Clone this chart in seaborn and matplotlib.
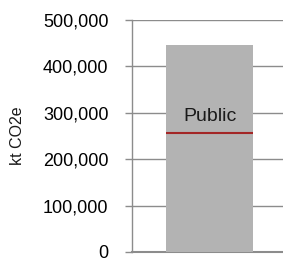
import numpy as np
import pandas as pd
import seaborn as sns
from matplotlib import pyplot as plt
from matplotlib.ticker import FuncFormatter

# Data
categories = ["Total"]
totals = [446000]
public_level = [256000]
segment_labels = ["Public"]
y_ticks = [0, 100000, 200000, 300000, 400000, 500000]

df = pd.DataFrame({"cat": categories, "value": totals})

sns.set_theme(style="white")
plt.rcParams["font.family"] = ["Liberation Sans", "DejaVu Sans"]

fig = plt.figure(figsize=(2.83, 2.58), dpi=100)
ax = fig.add_axes([132 / 283, 6 / 258, 151 / 283, 232 / 258])

sns.barplot(data=df, x="cat", y="value", color="#b3b3b3", saturation=1,
            width=1.0, linewidth=0, ax=ax, zorder=3)

# red marker line for the public share, with its label
for i, (lvl, lab) in enumerate(zip(public_level, segment_labels)):
    ax.hlines(lvl, i - 0.5, i + 0.5, color="#a32626", lw=1.5, zorder=4)
    ax.text(i, lvl + 37000, lab, ha="center", va="center", fontsize=14,
            color="#1a1a1a", zorder=5)

ax.set_xlim(-0.891, 0.845)
ax.set_ylim(0, 500000)
ax.set_yticks(y_ticks)
ax.yaxis.set_major_formatter(FuncFormatter(lambda v, p: f"{int(v):,}"))
ax.set_xticks([])
ax.set_xlabel("")
ax.set_ylabel("kt CO2e", fontsize=11.5, color="#1a1a1a", labelpad=13)

ax.grid(axis="y", color="#8c8c8c", lw=1, zorder=0)
for s in ["top", "right"]:
    ax.spines[s].set_visible(False)
ax.spines["left"].set_color("#8c8c8c")
ax.spines["left"].set_linewidth(1)
ax.spines["bottom"].set_color("#8c8c8c")
ax.spines["bottom"].set_linewidth(1.5)
ax.tick_params(axis="y", direction="out", length=5, width=1, color="#8c8c8c",
               labelsize=13, labelcolor="#000000", pad=12, left=True)

fig.savefig("out.png", dpi=100)
